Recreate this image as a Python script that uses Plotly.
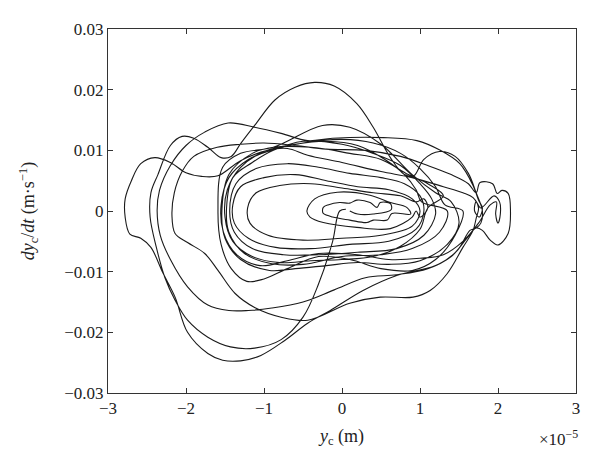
import plotly.graph_objects as go

# Phase-portrait trajectory
# yc in units of 1e-5 m, vy in units of 0.01 m/s (traversed clockwise)
yc_start = [0.05, -0.03, -0.12, -0.3, -0.5, -0.78, -1.12, -1.43, -1.72, -1.98, -2.14, -2.27, -2.38, -2.46, -2.45, -2.36, -2.2, -2.05, -1.9, -1.72, -1.55, -1.42, -1.3, -1.12, -0.86, -0.6, -0.35, -0.1, 0.19, 0.4, 0.62, 0.8, 0.92, 1.05, 1.25, 1.45, 1.62, 1.72, 1.8, 1.78, 1.72]
vy_start = [0.03, 0.0, -0.5, -1.2, -1.75, -2.12, -2.26, -2.24, -2.08, -1.8, -1.47, -1.1, -0.6, -0.1, 0.3, 0.6, 1.08, 1.23, 1.2, 1.05, 0.88, 0.9, 1.11, 1.41, 1.83, 2.04, 2.12, 2.06, 1.77, 1.38, 0.88, 0.6, 0.58, 0.85, 0.98, 0.9, 0.62, 0.3, 0.0, -0.2, -0.28]

yc_loop1 = [1.64, 1.48, 1.22, 0.71, 0.27, -0.15, -0.44, -0.73, -1.04, -1.3, -1.53, -1.72, -1.98, -2.14, -2.3, -2.45, -2.58, -2.72, -2.78, -2.78, -2.7, -2.58, -2.4, -2.2, -2.0, -1.8, -1.59, -1.3, -0.95, -0.7, -0.44, 0.0, 0.5, 0.9, 1.3, 1.55, 1.68, 1.75, 1.72]
vy_loop1 = [-0.32, -0.65, -0.89, -1.06, -1.31, -1.64, -1.85, -2.13, -2.38, -2.47, -2.46, -2.35, -2.0, -1.42, -1.01, -0.6, -0.45, -0.38, -0.1, 0.2, 0.5, 0.78, 0.88, 0.8, 0.63, 0.57, 0.58, 0.83, 1.0, 1.03, 0.92, 0.8, 0.65, 0.55, 0.4, 0.3, 0.22, 0.05, -0.12]

yc_loop2 = [1.68, 1.55, 1.35, 1.13, 0.91, 0.49, 0.1, -0.44, -0.78, -1.12, -1.37, -1.59, -1.76, -1.98, -2.14, -2.18, -2.15, -2.05, -1.9, -1.6, -1.3, -1.0, -0.6, -0.2, 0.3, 0.75, 1.1, 1.4, 1.62, 1.72]
vy_loop2 = [-0.32, -0.6, -1.03, -1.31, -1.42, -1.42, -1.52, -1.8, -1.75, -1.59, -1.36, -0.98, -0.7, -0.52, -0.37, -0.07, 0.3, 0.65, 0.9, 1.05, 1.1, 1.12, 1.08, 1.02, 1.0, 0.9, 0.75, 0.6, 0.45, 0.3]

yc_loop3 = [1.77, 1.93, 1.99, 2.05, 2.13, 2.16, 2.13, 2.0, 1.9, 1.8, 1.72, 1.6, 1.4, 1.1, 0.7, 0.3, -0.1, -0.5, -0.9, -1.2, -1.45, -1.72, -1.98, -2.2, -2.33, -2.37, -2.34, -2.2, -2.0, -1.76, -1.46, -1.12, -0.78, -0.44, -0.12, 0.53, 0.96, 1.26, 1.51, 1.68, 1.75, 1.8, 1.76, 1.7, 1.72, 1.78]
vy_loop3 = [0.47, 0.45, 0.29, 0.34, 0.29, 0.0, -0.37, -0.56, -0.48, -0.32, -0.28, -0.45, -0.75, -0.95, -1.05, -1.1, -1.3, -1.5, -1.6, -1.64, -1.64, -1.55, -1.25, -0.8, -0.4, 0.0, 0.34, 0.75, 1.08, 1.3, 1.45, 1.38, 1.28, 1.16, 1.2, 1.21, 1.16, 1.0, 0.78, 0.42, 0.18, 0.05, -0.1, 0.0, 0.15, 0.05]

yc_loop3b = [1.95, 2.02, 2.03, 2.0, 1.97, 1.98, 1.9, 1.75, 1.55, 1.3, 1.0, 0.6, 0.2, -0.3, -0.7, -1.05, -1.35, -1.52, -1.55, -1.45, -1.2, -0.9, -0.5, 0.0, 0.4, 0.75, 1.0, 1.2, 1.32]
vy_loop3b = [0.25, 0.15, -0.05, -0.2, -0.05, 0.15, 0.1, -0.2, -0.5, -0.72, -0.78, -0.8, -0.72, -0.7, -0.82, -0.9, -0.72, -0.35, 0.1, 0.55, 0.85, 1.0, 1.12, 1.18, 1.12, 0.95, 0.7, 0.4, 0.1]

yc_loop4 = [1.55, 1.45, 1.2, 0.9, 0.5, 0.1, -0.3, -0.7, -1.0, -1.22, -1.42, -1.55, -1.59, -1.53, -1.3, -0.88, -0.25, 0.1, 0.5, 0.9, 1.2, 1.4]
vy_loop4 = [0.0, -0.4, -0.8, -0.98, -0.95, -0.8, -0.75, -0.95, -1.12, -1.16, -0.95, -0.55, 0.0, 0.72, 0.95, 1.05, 1.41, 1.38, 1.1, 0.6, 0.3, 0.15]

yc_loop5 = [1.5, 1.35, 1.0, 0.6, 0.2, -0.2, -0.6, -0.93, -1.3, -1.5, -1.54, -1.45, -1.15, -0.88, -0.4, 0.1, 0.5, 0.85, 1.1, 1.3]
vy_loop5 = [-0.2, -0.55, -0.82, -0.88, -0.85, -0.9, -0.95, -0.98, -0.8, -0.45, 0.0, 0.6, 0.95, 1.05, 1.05, 0.95, 0.85, 0.6, 0.45, 0.25]

yc_loop5b = [1.1, 1.0, 0.75, 0.4, 0.0, -0.4, -0.8, -1.15, -1.4, -1.5, -1.47, -1.3, -1.0, -0.6, -0.2, 0.2, 0.55, 0.8, 0.95, 1.02]
vy_loop5b = [0.05, -0.3, -0.58, -0.75, -0.8, -0.82, -0.85, -0.75, -0.5, -0.1, 0.35, 0.72, 0.98, 1.1, 1.15, 1.08, 0.85, 0.6, 0.35, 0.15]

yc_loop6 = [1.35, 1.25, 0.9, 0.5, 0.0, -0.5, -0.9, -1.25, -1.45, -1.48, -1.4, -1.15, -0.88, -0.5, 0.0, 0.4, 0.75, 1.0, 1.15]
vy_loop6 = [0.0, -0.35, -0.62, -0.72, -0.75, -0.88, -0.87, -0.7, -0.35, 0.05, 0.55, 0.8, 1.0, 1.15, 1.1, 0.95, 0.75, 0.45, 0.2]

yc_loop7 = [1.2, 1.05, 0.7, 0.2, -0.3, -0.75, -1.15, -1.38, -1.44, -1.36, -1.1, -0.7, -0.3, 0.1, 0.5, 0.8, 1.0]
vy_loop7 = [-0.05, -0.4, -0.62, -0.68, -0.72, -0.72, -0.62, -0.35, 0.0, 0.45, 0.7, 0.78, 0.72, 0.62, 0.55, 0.45, 0.25]

yc_loop8 = [1.05, 0.95, 0.6, 0.1, -0.4, -0.85, -1.2, -1.38, -1.4, -1.3, -1.0, -0.6, -0.2, 0.2, 0.6, 0.9]
vy_loop8 = [0.0, -0.3, -0.5, -0.55, -0.62, -0.6, -0.45, -0.2, 0.1, 0.4, 0.55, 0.6, 0.5, 0.4, 0.35, 0.2]

yc_loop9 = [1.0, 0.9, 0.5, 0.0, -0.5, -0.95, -1.18, -1.21, -1.1, -0.8, -0.4, 0.0, 0.4, 0.75, 0.95, 1.05, 1.1, 1.0, 0.95]
vy_loop9 = [0.0, -0.25, -0.4, -0.45, -0.48, -0.4, -0.2, 0.05, 0.3, 0.42, 0.45, 0.38, 0.3, 0.25, 0.15, 0.2, 0.05, -0.1, 0.0]

yc_loop10 = [0.9, 0.62, 0.19, -0.24, -0.41, -0.45, -0.35, -0.06, 0.36, 0.62, 0.83, 0.88]
vy_loop10 = [-0.1, -0.29, -0.27, -0.19, -0.1, 0.0, 0.2, 0.31, 0.26, 0.14, 0.06, -0.05]

yc_loop11 = [0.64, 0.58, 0.4, 0.32, 0.1, -0.12, -0.24, -0.25, -0.24, -0.18, -0.03, 0.1, 0.19, 0.36, 0.45, 0.49, 0.62, 0.63, 0.4, 0.2, 0.1]
vy_loop11 = [-0.04, -0.15, -0.15, -0.19, -0.15, -0.1, -0.04, 0.0, 0.06, 0.1, 0.14, 0.13, 0.18, 0.14, 0.06, 0.14, 0.12, 0.02, -0.05, -0.05, 0.0]

yc_parts = [yc_start, yc_loop1, yc_loop2, yc_loop3, yc_loop3b, yc_loop4, yc_loop5, yc_loop5b,
            yc_loop6, yc_loop7, yc_loop8, yc_loop9, yc_loop10, yc_loop11]
vy_parts = [vy_start, vy_loop1, vy_loop2, vy_loop3, vy_loop3b, vy_loop4, vy_loop5, vy_loop5b,
            vy_loop6, vy_loop7, vy_loop8, vy_loop9, vy_loop10, vy_loop11]

xs, ys = [], []
for a, b in zip(yc_parts, vy_parts):
    xs += a
    ys += [v * 0.01 for v in b]

x_ticks = [-3, -2, -1, 0, 1, 2, 3]
x_tick_text = ["\u22123", "\u22122", "\u22121", "0", "1", "2", "3"]
y_ticks = [-0.03, -0.02, -0.01, 0, 0.01, 0.02, 0.03]
y_tick_text = ["\u22120.03", "\u22120.02", "\u22120.01", "0", "0.01", "0.02", "0.03"]

serif = "Liberation Serif"

fig = go.Figure()
fig.add_trace(go.Scatter(x=xs, y=ys, mode="lines",
                         line=dict(color="#1a1a1a", width=1.1, shape="spline", smoothing=1.0),
                         hoverinfo="skip", showlegend=False))

axis_common = dict(showline=True, linecolor="#333", linewidth=1, mirror="ticks",
                   ticks="inside", ticklen=5, tickcolor="#333", showgrid=False,
                   zeroline=False, automargin=False,
                   tickfont=dict(family=serif, size=17, color="#222"))

fig.update_xaxes(range=[-3, 3], tickvals=x_ticks, ticktext=x_tick_text,
                 title=dict(text="<i>y</i><sub>c</sub> (m)", font=dict(family=serif, size=18, color="#222"), standoff=11),
                 **axis_common)
fig.update_yaxes(range=[-0.03, 0.03], tickvals=y_ticks, ticktext=y_tick_text,
                 title=dict(text="<i>dy</i><sub>c</sub>/<i>dt</i> (m\u00b7s<sup>\u22121</sup>)", font=dict(family=serif, size=18, color="#222"), standoff=24),
                 **axis_common)

fig.add_annotation(x=1, y=0, xref="paper", yref="paper", xanchor="right", yanchor="top",
                   yshift=-32, xshift=4, showarrow=False,
                   text="\u00d710<sup>\u22125</sup>", font=dict(family=serif, size=17, color="#222"))

# the page body adds an 8px offset, so the figure is sized to fit the 600x468 window
fig.update_layout(width=592, height=460, margin=dict(l=100, r=24, t=21, b=75),
                  paper_bgcolor="white", plot_bgcolor="white")

fig.write_html("out.html")
